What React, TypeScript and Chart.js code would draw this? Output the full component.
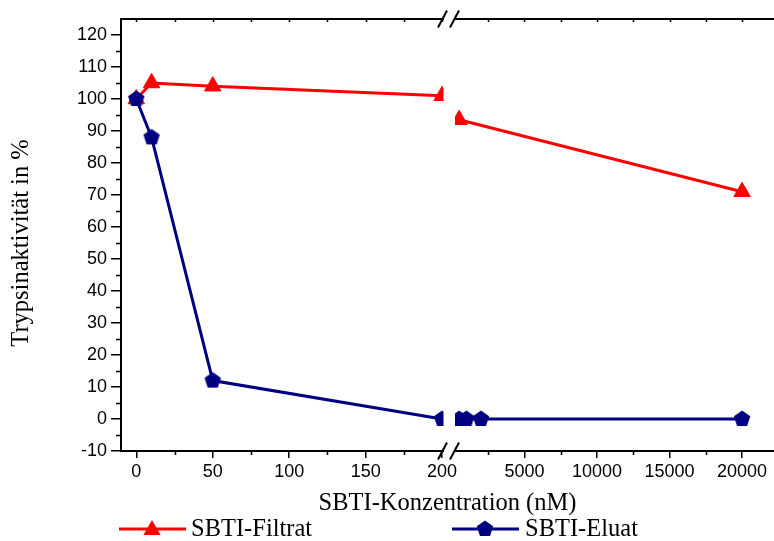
import React, { useEffect, useRef } from "react";
import { Chart, registerables } from "chart.js";

Chart.register(...registerables);

// ---------- data ----------
const concLow = [0, 10, 50, 200];
const filtratLow = [100, 105, 104, 101];
const eluatLow = [100, 88, 12, 0];

const concHighFiltrat = [500, 20000];
const filtratHigh = [93.5, 71];
const concHighEluat = [500, 1000, 2000, 20000];
const eluatHigh = [0, 0, 0, 0];

const yTickValues = [-10, 0, 10, 20, 30, 40, 50, 60, 70, 80, 90, 100, 110, 120];
const yMinorValues = [-5, 5, 15, 25, 35, 45, 55, 65, 75, 85, 95, 105, 115];
const xLowTicks = [0, 50, 100, 150, 200];
const xLowMinor = [25, 75, 125, 175];
const xHighTicks = [5000, 10000, 15000, 20000];
const xHighMinor = [2500, 7500, 12500, 17500];

const seriesNames = ["SBTI-Filtrat", "SBTI-Eluat"];
const xTitle = "SBTI-Konzentration (nM)";
const yTitle = "Trypsinaktivität in %";

// ---------- styles ----------
const RED = "#ff0000";
const NAVY = "#000080";
const SANS = "'Liberation Sans', Arial, sans-serif";
const SERIF = "'Liberation Serif', 'Times New Roman', serif";
const TICK_SIZE = 18;

function makePentagon(r: number, color: string) {
  const size = Math.ceil(r * 2 + 2);
  const c = document.createElement("canvas");
  c.width = size;
  c.height = size;
  const ctx = c.getContext("2d")!;
  const cx = size / 2;
  const cy = size / 2;
  ctx.beginPath();
  for (let i = 0; i < 5; i++) {
    const a = -Math.PI / 2 + (i * 2 * Math.PI) / 5;
    const px = cx + r * Math.cos(a);
    const py = cy + r * Math.sin(a);
    if (i === 0) ctx.moveTo(px, py);
    else ctx.lineTo(px, py);
  }
  ctx.closePath();
  ctx.fillStyle = color;
  ctx.fill();
  return c;
}

function drawTriangle(ctx: CanvasRenderingContext2D, x: number, y: number, r: number, color: string) {
  ctx.beginPath();
  for (let i = 0; i < 3; i++) {
    const a = -Math.PI / 2 + (i * 2 * Math.PI) / 3;
    const px = x + r * Math.cos(a);
    const py = y + r * Math.sin(a);
    if (i === 0) ctx.moveTo(px, py);
    else ctx.lineTo(px, py);
  }
  ctx.closePath();
  ctx.fillStyle = color;
  ctx.fill();
}

const zeroPad = (s: any) => {
  s.paddingLeft = 0;
  s.paddingRight = 0;
  s.paddingTop = 0;
  s.paddingBottom = 0;
};

export default function App() {
  const canvasRef = useRef<HTMLCanvasElement | null>(null);

  useEffect(() => {
    const canvas = canvasRef.current;
    if (!canvas) return;
    const pent = makePentagon(8.6, NAVY);

    const clipPlugin = {
      id: "breakClip",
      beforeDatasetDraw(chart: any, args: any) {
        const ctx = chart.ctx;
        const xL = chart.scales.xL;
        const brk = xL.right;
        ctx.save();
        ctx.beginPath();
        if (args.meta.xAxisID === "xL") ctx.rect(0, 0, brk - 5.5, chart.height);
        else ctx.rect(brk + 6, 0, chart.width - brk - 6, chart.height);
        ctx.clip();
      },
      afterDatasetDraw(chart: any) {
        chart.ctx.restore();
      },
    };

    const decoPlugin = {
      id: "deco",
      afterDraw(chart: any) {
        const ctx: CanvasRenderingContext2D = chart.ctx;
        const area = chart.chartArea;
        const y = chart.scales.y;
        const xL = chart.scales.xL;
        const xR = chart.scales.xR;
        ctx.save();
        ctx.strokeStyle = "#000";
        // top frame line
        ctx.lineWidth = 2;
        ctx.beginPath();
        ctx.moveTo(area.left - 1, area.top);
        ctx.lineTo(area.right, area.top);
        ctx.stroke();
        // minor ticks
        ctx.lineWidth = 1.5;
        ctx.beginPath();
        for (const v of yMinorValues) {
          const py = Math.round(y.getPixelForValue(v)) + 0.5;
          ctx.moveTo(area.left - 5, py);
          ctx.lineTo(area.left, py);
        }
        for (const v of xLowMinor) {
          const px = Math.round(xL.getPixelForValue(v)) + 0.5;
          ctx.moveTo(px, area.bottom);
          ctx.lineTo(px, area.bottom + 4);
        }
        for (const v of xHighMinor) {
          const px = Math.round(xR.getPixelForValue(v)) + 0.5;
          ctx.moveTo(px, area.bottom);
          ctx.lineTo(px, area.bottom + 4);
        }
        // small inward ticks on top frame
        for (const v of [...xLowTicks, ...xLowMinor]) {
          const px = Math.round(xL.getPixelForValue(v)) + 0.5;
          ctx.moveTo(px, area.top);
          ctx.lineTo(px, area.top + 3);
        }
        for (const v of [...xHighTicks, ...xHighMinor]) {
          const px = Math.round(xR.getPixelForValue(v)) + 0.5;
          ctx.moveTo(px, area.top);
          ctx.lineTo(px, area.top + 3);
        }
        ctx.stroke();

        // axis break marks
        const brk = xL.right;
        for (const yy of [area.top, area.bottom]) {
          ctx.fillStyle = "#fff";
          ctx.fillRect(brk - 5, yy - 2, 10, 4);
          ctx.lineWidth = 2;
          ctx.beginPath();
          for (const cx of [brk - 6.5, brk + 5.5]) {
            ctx.moveTo(cx - 4.5, yy + 8.5);
            ctx.lineTo(cx + 4.5, yy - 8.5);
          }
          ctx.stroke();
        }

        // axis titles
        ctx.fillStyle = "#000";
        ctx.font = `24.5px ${SERIF}`;
        ctx.textAlign = "center";
        ctx.textBaseline = "middle";
        ctx.fillText(xTitle, (area.left + area.right) / 2, 504);
        ctx.save();
        ctx.translate(22, 243);
        ctx.rotate(-Math.PI / 2);
        ctx.fillText(yTitle, 0, 0);
        ctx.restore();

        // legend
        const ly = 529;
        ctx.lineWidth = 3;
        ctx.strokeStyle = RED;
        ctx.beginPath();
        ctx.moveTo(119, ly);
        ctx.lineTo(186, ly);
        ctx.stroke();
        drawTriangle(ctx, 152, ly + 1, 10, RED);
        ctx.strokeStyle = NAVY;
        ctx.beginPath();
        ctx.moveTo(452, ly);
        ctx.lineTo(519, ly);
        ctx.stroke();
        ctx.drawImage(pent, 485 - pent.width / 2, ly - pent.height / 2);
        ctx.fillStyle = "#000";
        ctx.textAlign = "left";
        ctx.font = `24.5px ${SERIF}`;
        ctx.fillText(seriesNames[0], 191, ly + 1);
        ctx.fillText(seriesNames[1], 525, ly + 1);
        ctx.restore();
      },
    };

    const pts = (xs: number[], ys: number[]) => xs.map((x, i) => ({ x, y: ys[i] }));

    const common = {
      borderWidth: 3,
      tension: 0,
      clip: false as const,
      pointHoverRadius: 9,
    };

    const tickOpts = {
      color: "#000",
      font: { family: SANS, size: TICK_SIZE },
      autoSkip: false,
      maxRotation: 0,
      callback: (v: any) => String(v),
    };

    const gridOpts = (len: number) => ({
      display: true,
      drawOnChartArea: false,
      drawTicks: true,
      tickLength: len,
      color: "#000",
      lineWidth: 1.5,
    });

    const chart = new Chart(canvas, {
      type: "line",
      data: {
        datasets: [
          {
            ...common,
            label: seriesNames[1],
            data: pts(concLow, eluatLow),
            xAxisID: "xL",
            yAxisID: "y",
            borderColor: NAVY,
            backgroundColor: NAVY,
            pointStyle: pent as any,
            pointRadius: 9,
          },
          {
            ...common,
            label: seriesNames[1],
            data: pts(concHighEluat, eluatHigh),
            xAxisID: "xR",
            yAxisID: "y",
            borderColor: NAVY,
            backgroundColor: NAVY,
            pointStyle: pent as any,
            pointRadius: 9,
          },
          {
            ...common,
            label: seriesNames[0],
            data: pts(concLow, filtratLow),
            xAxisID: "xL",
            yAxisID: "y",
            borderColor: RED,
            backgroundColor: RED,
            pointStyle: "triangle",
            pointRadius: 9.5,
            pointBorderWidth: 1,
          },
          {
            ...common,
            label: seriesNames[0],
            data: pts(concHighFiltrat, filtratHigh),
            xAxisID: "xR",
            yAxisID: "y",
            borderColor: RED,
            backgroundColor: RED,
            pointStyle: "triangle",
            pointRadius: 9.5,
            pointBorderWidth: 1,
          },
        ],
      },
      options: {
        responsive: false,
        animation: false,
        devicePixelRatio: 1,
        layout: { autoPadding: false, padding: { top: 19, left: 0, right: 0, bottom: 60 } },
        plugins: {
          legend: { display: false },
          tooltip: { enabled: false },
          title: { display: false },
        },
        events: [],
        scales: {
          y: {
            type: "linear",
            position: "left",
            min: -10,
            max: 125,
            afterBuildTicks: (s: any) => {
              s.ticks = yTickValues.map((v) => ({ value: v }));
            },
            afterFit: (s: any) => {
              s.width = 121;
              zeroPad(s);
            },
            ticks: { ...tickOpts, padding: 4 },
            grid: gridOpts(10),
            border: { display: true, color: "#000", width: 2 },
          },
          xL: {
            type: "linear",
            position: "bottom",
            stack: "x",
            stackWeight: 328,
            min: -10,
            max: 204.5,
            afterBuildTicks: (s: any) => {
              s.ticks = xLowTicks.map((v) => ({ value: v }));
            },
            afterFit: (s: any) => {
              s.height = 30;
              zeroPad(s);
            },
            ticks: { ...tickOpts, padding: 3 },
            grid: gridOpts(7),
            border: { display: true, color: "#000", width: 2 },
          },
          xR: {
            type: "linear",
            position: "bottom",
            stack: "x",
            stackWeight: 325,
            min: -200,
            max: 22200,
            afterBuildTicks: (s: any) => {
              s.ticks = xHighTicks.map((v) => ({ value: v }));
            },
            afterFit: (s: any) => {
              s.height = 30;
              zeroPad(s);
            },
            ticks: { ...tickOpts, padding: 3 },
            grid: gridOpts(7),
            border: { display: true, color: "#000", width: 2 },
          },
        },
      },
      plugins: [clipPlugin, decoPlugin],
    } as any);

    return () => chart.destroy();
  }, []);

  return (
    <div style={{ position: "fixed", left: 0, top: 0, width: 774, height: 541, background: "#fff" }}>
      <canvas ref={canvasRef} width={774} height={541} style={{ display: "block" }} />
    </div>
  );
}
